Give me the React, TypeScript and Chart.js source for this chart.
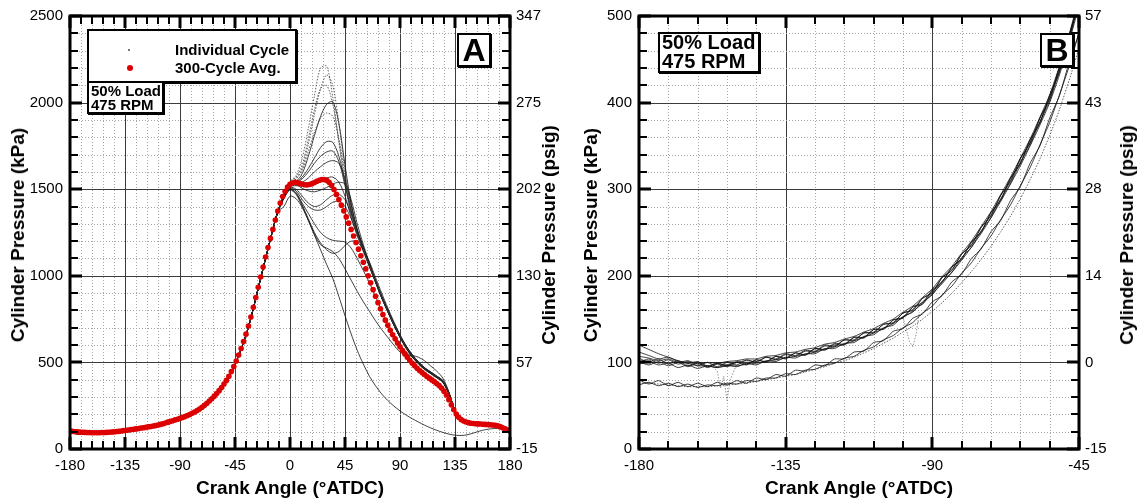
import React, { useEffect, useRef } from 'react';
import { Chart, registerables } from 'chart.js';

Chart.register(...registerables);

const FONT = '"Liberation Sans", Arial, Helvetica, sans-serif';

// ---------------- Panel A : full cycle ----------------
// 300-cycle average, every 2 deg from -180 to 180 (kPa)
const avgKpa = [
  104, 102, 100, 99, 98, 97, 96, 95, 95, 94,
  94, 94, 94, 95, 95, 96, 97, 98, 99, 101,
  102, 104, 106, 108, 110, 112, 114, 116, 118, 121,
  123, 125, 128, 130, 133, 135, 139, 142, 146, 150,
  155, 159, 163, 168, 172, 177, 182, 187, 193, 199,
  206, 214, 222, 231, 241, 252, 264, 277, 290, 305,
  320, 337, 355, 375, 396, 420, 447, 476, 508, 543,
  580, 620, 663, 710, 762, 818, 875, 934, 993, 1051,
  1108, 1163, 1216, 1268, 1322, 1374, 1420, 1458, 1488, 1512,
  1528, 1536, 1540, 1538, 1533, 1529, 1526, 1525, 1527, 1532,
  1539, 1546, 1552, 1556, 1556, 1551, 1540, 1522, 1498, 1470,
  1440, 1408, 1375, 1340, 1304, 1268, 1230, 1192, 1154, 1116,
  1078, 1040, 1000, 960, 920, 882, 845, 810, 776, 744,
  714, 686, 660, 636, 612, 590, 569, 549, 530, 512,
  495, 480, 466, 453, 441, 430, 419, 409, 399, 389,
  378, 366, 352, 334, 312, 285, 255, 227, 202, 183,
  170, 162, 156, 152, 149, 147, 146, 145, 144, 143,
  142, 141, 140, 139, 137, 134, 129, 123, 116, 110,
  104,
];
const avgAngles = avgKpa.map((_, i) => -180 + 2 * i);

// Compression stroke shared by the individual cycles
const compAngles = [-180, -175, -170, -165, -160, -155, -150, -145, -140, -135, -130, -125, -120, -115, -110, -105, -100, -95, -90, -85, -80, -75, -70, -65, -60, -55, -50, -45, -40, -35, -30, -25, -20, -15, -10];
const compKpa = [92, 89, 87, 86, 86, 87, 89, 92, 96, 101, 106, 112, 118, 125, 133, 142, 153, 164, 176, 190, 205, 225, 250, 281, 318, 362, 417, 488, 575, 680, 812, 957, 1100, 1240, 1370];

// Individual fired cycles, -5 .. 140 deg
const cycAngles = [-5, 0, 5, 10, 15, 20, 25, 30, 35, 40, 45, 50, 55, 60, 65, 70, 75, 80, 85, 90, 95, 100, 105, 110, 115, 120, 125, 130, 135, 140];
const cycle01 = [1480, 1545, 1580, 1680, 1850, 2040, 2200, 2210, 2030, 1770, 1530, 1350, 1235, 1150, 1055, 965, 875, 795, 720, 650, 590, 540, 500, 468, 445, 420, 395, 325, 220, 172];
const cycle02 = [1470, 1530, 1560, 1620, 1760, 1930, 2080, 2160, 2100, 1880, 1610, 1390, 1250, 1160, 1065, 970, 880, 800, 722, 652, 592, 540, 500, 466, 442, 418, 392, 322, 218, 170];
const cycle03 = [1475, 1540, 1570, 1640, 1790, 1960, 2080, 2100, 1990, 1780, 1560, 1370, 1245, 1155, 1060, 968, 878, 798, 720, 650, 588, 538, 498, 465, 440, 416, 390, 320, 215, 170];
const cycle04 = [1465, 1525, 1545, 1590, 1690, 1810, 1920, 1990, 2005, 1880, 1640, 1420, 1265, 1165, 1068, 972, 882, 802, 724, 654, 592, 542, 502, 468, 444, 420, 395, 325, 220, 172];
const cycle05 = [1470, 1535, 1560, 1610, 1720, 1830, 1910, 1940, 1920, 1790, 1590, 1400, 1260, 1160, 1062, 970, 880, 800, 722, 652, 590, 540, 500, 466, 442, 418, 392, 322, 218, 170];
const cycle06 = [1465, 1525, 1540, 1570, 1620, 1680, 1740, 1775, 1770, 1690, 1540, 1380, 1255, 1158, 1060, 966, 876, 796, 718, 648, 586, 536, 496, 464, 440, 416, 390, 320, 215, 170];
const cycle07 = [1460, 1520, 1535, 1560, 1600, 1650, 1690, 1715, 1720, 1660, 1520, 1370, 1250, 1155, 1058, 964, 874, 794, 716, 646, 584, 534, 494, 462, 438, 414, 388, 318, 214, 169];
const cycle08 = [1460, 1520, 1530, 1540, 1565, 1600, 1630, 1655, 1665, 1650, 1560, 1410, 1270, 1165, 1065, 970, 880, 800, 722, 652, 590, 540, 500, 466, 442, 418, 392, 322, 218, 170];
const cycle09 = [1455, 1515, 1520, 1520, 1525, 1540, 1555, 1565, 1570, 1540, 1460, 1340, 1230, 1140, 1050, 962, 872, 792, 714, 644, 582, 532, 492, 460, 436, 412, 386, 316, 212, 168];
const cycle10 = [1460, 1520, 1525, 1505, 1490, 1485, 1495, 1510, 1530, 1540, 1530, 1440, 1300, 1180, 1075, 975, 885, 805, 727, 657, 595, 545, 505, 470, 446, 422, 396, 326, 222, 174];
const cycle11 = [1455, 1510, 1500, 1460, 1420, 1400, 1410, 1440, 1465, 1470, 1440, 1360, 1260, 1160, 1062, 968, 878, 798, 720, 650, 588, 538, 498, 465, 440, 416, 390, 320, 215, 170];
const cycle12 = [1450, 1505, 1490, 1440, 1400, 1380, 1380, 1400, 1425, 1430, 1400, 1330, 1240, 1150, 1055, 962, 872, 792, 714, 644, 582, 532, 492, 460, 436, 412, 386, 316, 212, 168];
const cycle13 = [1450, 1500, 1480, 1410, 1330, 1250, 1190, 1150, 1130, 1140, 1175, 1200, 1195, 1150, 1080, 990, 900, 815, 735, 660, 596, 545, 502, 468, 442, 418, 392, 322, 218, 170];
const cycle14 = [1445, 1495, 1470, 1400, 1320, 1240, 1180, 1160, 1140, 1100, 1040, 975, 910, 850, 795, 740, 690, 645, 600, 560, 545, 540, 530, 510, 480, 450, 410, 330, 222, 172];
const cycle15 = [1450, 1500, 1475, 1420, 1360, 1300, 1250, 1220, 1205, 1200, 1195, 1160, 1100, 1030, 960, 880, 800, 725, 660, 605, 560, 530, 500, 470, 445, 420, 394, 324, 220, 172];
const firedTailAngles = [145, 150, 155, 160, 165, 170, 175, 180];
const firedTailKpa = [160, 150, 146, 143, 141, 136, 122, 105];

// Misfire cycle, -5 .. 180 deg
const misfireAngles = [-5, 0, 5, 10, 15, 20, 25, 30, 35, 40, 45, 50, 55, 60, 65, 70, 75, 80, 85, 90, 95, 100, 105, 110, 115, 120, 125, 130, 135, 140, 145, 150, 155, 160, 165, 170, 175, 180];
const misfireKpa = [1400, 1460, 1445, 1395, 1320, 1235, 1150, 1065, 985, 880, 770, 665, 570, 490, 420, 365, 318, 280, 248, 220, 196, 175, 156, 138, 122, 108, 96, 86, 80, 78, 82, 92, 103, 112, 117, 118, 112, 104];

const psigLabelsA = ['-15', '57', '130', '202', '275', '347'];

// ---------------- Panel B : compression detail ----------------
const bAngles = [
  -180, -177, -174, -171, -168, -165, -162, -159, -156, -153,
  -150, -147, -144, -141, -138, -135, -132, -129, -126, -123,
  -120, -117, -114, -111, -108, -105, -102, -99, -96, -93,
  -90, -87, -84, -81, -78, -75, -72, -69, -66, -63,
  -60, -57, -54, -51, -48, -45,
];
const upper1 = [105, 100, 104, 98, 102, 96, 100, 95, 99, 96, 101, 98, 103, 101, 107, 105, 111, 109, 116, 115, 122, 121, 129, 129, 138, 139, 149, 152, 164, 169, 184, 193, 210, 220, 239, 251, 273, 288, 313, 330, 357, 377, 408, 436, 478, 516];
const upper2 = [112, 108, 104, 106, 101, 99, 101, 96, 99, 97, 100, 102, 101, 106, 104, 110, 108, 114, 113, 120, 119, 126, 126, 134, 135, 144, 146, 157, 161, 174, 181, 198, 207, 225, 236, 256, 270, 293, 310, 335, 354, 382, 405, 441, 475, 521];
const upper3 = [98, 101, 97, 99, 94, 97, 93, 96, 94, 97, 95, 99, 97, 102, 101, 106, 105, 110, 110, 116, 116, 122, 123, 130, 132, 140, 143, 153, 158, 170, 178, 194, 204, 221, 233, 252, 267, 289, 307, 331, 351, 378, 402, 437, 472, 517];
const upper4 = [107, 105, 102, 104, 100, 102, 98, 100, 99, 101, 102, 104, 104, 107, 108, 111, 112, 115, 117, 121, 123, 127, 130, 135, 139, 145, 150, 158, 165, 175, 185, 199, 211, 226, 240, 257, 274, 294, 314, 336, 358, 383, 409, 442, 479, 522];
const upper5 = [120, 115, 110, 106, 102, 99, 96, 96, 94, 96, 96, 98, 99, 101, 103, 105, 107, 109, 112, 115, 118, 121, 125, 129, 134, 139, 145, 152, 159, 168, 179, 191, 204, 218, 233, 249, 267, 286, 306, 327, 350, 374, 400, 432, 470, 512];
const upper6 = [101, 97, 101, 96, 100, 95, 99, 94, 98, 95, 100, 97, 103, 100, 107, 104, 111, 108, 116, 114, 121, 120, 129, 128, 138, 138, 149, 151, 164, 167, 183, 192, 210, 219, 239, 250, 273, 287, 313, 329, 357, 376, 408, 435, 478, 515];
const upper7 = [100, 104, 99, 103, 98, 101, 96, 100, 95, 100, 97, 103, 100, 106, 103, 109, 107, 113, 112, 119, 118, 126, 125, 134, 134, 144, 145, 157, 160, 174, 180, 198, 206, 225, 235, 256, 269, 293, 309, 335, 353, 382, 404, 441, 474, 521];
const lower1 = [80, 75, 79, 73, 77, 72, 76, 72, 77, 74, 79, 76, 82, 80, 86, 84, 91, 90, 97, 96, 104, 104, 112, 113, 123, 125, 136, 139, 151, 156, 170, 177, 193, 202, 220, 231, 251, 264, 287, 303, 330, 350, 382, 408, 447, 480];
const lower2 = [74, 77, 73, 76, 72, 75, 71, 74, 73, 76, 75, 79, 78, 82, 82, 87, 86, 91, 92, 97, 99, 105, 107, 114, 118, 126, 131, 140, 146, 157, 165, 178, 188, 203, 215, 232, 246, 265, 282, 304, 325, 351, 377, 409, 442, 481];
const lower3 = [76, 76, 75, 74, 73, 72, 72, 72, 73, 74, 75, 76, 78, 80, 82, 84, 86, 89, 92, 95, 99, 102, 106, 111, 116, 122, 128, 135, 142, 150, 159, 169, 180, 192, 205, 219, 234, 251, 269, 289, 311, 335, 362, 392, 426, 463];
const spikeAAngles = [-158, -156, -155, -154, -153, -152, -150];
const spikeAKpa = [97, 90, 70, 84, 56, 80, 98];
const spikeBAngles = [-99, -98, -97, -96, -95, -94];
const spikeBKpa = [152, 138, 124, 118, 132, 158];

const psigLabelsB = ['-15', '0', '14', '28', '43', '57'];

// ---------------- helpers ----------------
const pts = (xs: number[], ys: number[]) => xs.map((x, i) => ({ x, y: ys[i] }));
const isMult = (v: number, m: number) => Math.abs(v / m - Math.round(v / m)) < 1e-6;
const gridValues = (min: number, max: number, step: number) => {
  const n = Math.round((max - min) / step);
  const out: number[] = [];
  for (let i = 0; i <= n; i++) out.push(min + i * step);
  return out;
};

const frameGrid = {
  id: 'frameGrid',
  beforeDatasetsDraw(chart: any, _a: any, o: any) {
    const { ctx, chartArea: a } = chart;
    const xs = chart.scales.x;
    const ys = chart.scales.y;
    ctx.save();
    ctx.lineWidth = 1;
    for (const v of gridValues(xs.min, xs.max, o.xMinor)) {
      const p = Math.round(xs.getPixelForValue(v)) + 0.5;
      if (p < a.left + 2 || p > a.right - 2) continue;
      const major = isMult(v, o.xMajor);
      ctx.setLineDash(major ? [] : [1, 2]);
      ctx.strokeStyle = major ? '#3c3c3c' : '#a6a6a6';
      ctx.beginPath();
      ctx.moveTo(p, a.top);
      ctx.lineTo(p, a.bottom);
      ctx.stroke();
    }
    for (const v of gridValues(ys.min, ys.max, o.yMinor)) {
      const p = Math.round(ys.getPixelForValue(v)) + 0.5;
      if (p < a.top + 2 || p > a.bottom - 2) continue;
      const major = isMult(v, o.yMajor);
      ctx.setLineDash(major ? [] : [1, 2]);
      ctx.strokeStyle = major ? '#3c3c3c' : '#a6a6a6';
      ctx.beginPath();
      ctx.moveTo(a.left, p);
      ctx.lineTo(a.right, p);
      ctx.stroke();
    }
    ctx.restore();
  },
  afterDatasetsDraw(chart: any, _a: any, o: any) {
    const { ctx, chartArea: a } = chart;
    const xs = chart.scales.x;
    const ys = chart.scales.y;
    ctx.save();
    ctx.setLineDash([]);
    ctx.strokeStyle = '#000';
    for (const v of gridValues(xs.min, xs.max, o.xMinor)) {
      const p = Math.round(xs.getPixelForValue(v));
      const major = isMult(v, o.xMajor);
      const len = major ? 12 : 8;
      ctx.lineWidth = major ? 3 : 2;
      ctx.beginPath();
      ctx.moveTo(p, a.bottom);
      ctx.lineTo(p, a.bottom - len);
      ctx.moveTo(p, a.top);
      ctx.lineTo(p, a.top + len);
      ctx.stroke();
    }
    for (const v of gridValues(ys.min, ys.max, o.yMinor)) {
      const p = Math.round(ys.getPixelForValue(v));
      const major = isMult(v, o.yMajor);
      const len = major ? 12 : 8;
      ctx.lineWidth = major ? 3 : 2;
      ctx.beginPath();
      ctx.moveTo(a.left, p);
      ctx.lineTo(a.left + len, p);
      ctx.moveTo(a.right, p);
      ctx.lineTo(a.right - len, p);
      ctx.stroke();
    }
    ctx.lineWidth = 3;
    ctx.strokeRect(a.left, a.top, a.right - a.left, a.bottom - a.top);
    ctx.restore();
  },
};

const tickFont = { family: FONT, size: 15 };

function axes(xMin: number, xMax: number, yMax: number, yStep: number, leftW: number, rightW: number, psig: string[]) {
  return {
    x: {
      type: 'linear', position: 'bottom', min: xMin, max: xMax,
      grid: { display: false, drawTicks: false }, border: { display: false },
      ticks: { stepSize: 45, padding: 8, font: tickFont, color: '#000', maxRotation: 0, autoSkip: false, callback: (v: any) => String(v) },
      afterFit: (s: any) => { s.height = 51; },
    },
    y: {
      type: 'linear', position: 'left', min: 0, max: yMax,
      grid: { display: false, drawTicks: false }, border: { display: false },
      ticks: { stepSize: yStep, padding: 7, font: tickFont, color: '#000', callback: (v: any) => String(v) },
      afterFit: (s: any) => { s.width = leftW; },
    },
    y2: {
      type: 'linear', position: 'right', min: 0, max: yMax,
      grid: { display: false, drawTicks: false }, border: { display: false },
      ticks: { stepSize: yStep, padding: 6, font: tickFont, color: '#000', callback: (_v: any, i: number) => psig[i] ?? '' },
      afterFit: (s: any) => { s.width = rightW; },
    },
  };
}

const baseLine = (data: any[], dashed: boolean, tension: number, color?: string) => ({
  data,
  borderColor: color ?? (dashed ? '#3a3a3a' : '#111'),
  borderWidth: 0.8,
  borderDash: dashed ? [1.5, 1.5] : [],
  pointRadius: 0,
  tension,
  fill: false,
});

export default function App() {
  const refA = useRef<HTMLCanvasElement>(null);
  const refB = useRef<HTMLCanvasElement>(null);

  useEffect(() => {
    const fired = [cycle01, cycle02, cycle03, cycle04, cycle05, cycle06, cycle07, cycle08, cycle09, cycle10, cycle11, cycle12, cycle13, cycle14, cycle15];
    const dashedIdx = [0, 1, 2, 4];
    const comp = pts(compAngles, compKpa);
    const tail = pts(firedTailAngles, firedTailKpa);
    const dsA: any[] = [
      {
        data: pts(avgAngles, avgKpa),
        showLine: false,
        pointRadius: 2.8,
        pointBackgroundColor: '#dd0000',
        pointBorderColor: '#dd0000',
        pointBorderWidth: 0,
      },
      ...fired.map((c, i) => baseLine([...comp, ...pts(cycAngles, c), ...tail], dashedIdx.includes(i), 0.3)),
      baseLine([...comp, ...pts(misfireAngles, misfireKpa)], false, 0.3),
    ];
    const chartA = new Chart(refA.current as HTMLCanvasElement, {
      type: 'line',
      data: { datasets: dsA },
      options: {
        responsive: false, animation: false, events: [],
        layout: { padding: { top: 15, left: 0, right: 0, bottom: 0 } },
        plugins: { legend: { display: false }, tooltip: { enabled: false }, frameGrid: { xMinor: 9, xMajor: 45, yMinor: 100, yMajor: 500 } } as any,
        scales: axes(-180, 180, 2500, 500, 70, 55, psigLabelsA) as any,
      },
      plugins: [frameGrid],
    });

    const uppers = [upper1, upper2, upper3, upper4, upper5, upper6, upper7];
    const dsB: any[] = [
      ...uppers.map((u) => baseLine(pts(bAngles, u), false, 0.2)),
      baseLine(pts(bAngles, lower1), false, 0.2),
      baseLine(pts(bAngles, lower2), false, 0.2),
      baseLine(pts(bAngles, lower3), true, 0.2),
      baseLine(pts(spikeAAngles, spikeAKpa), true, 0, '#777'),
      baseLine(pts(spikeBAngles, spikeBKpa), true, 0, '#777'),
    ];
    const chartB = new Chart(refB.current as HTMLCanvasElement, {
      type: 'line',
      data: { datasets: dsB },
      options: {
        responsive: false, animation: false, events: [],
        layout: { padding: { top: 15, left: 0, right: 0, bottom: 0 } },
        plugins: { legend: { display: false }, tooltip: { enabled: false }, frameGrid: { xMinor: 9, xMajor: 45, yMinor: 20, yMajor: 100 } } as any,
        scales: axes(-180, -45, 500, 100, 74, 60, psigLabelsB) as any,
      },
      plugins: [frameGrid],
    });
    return () => {
      chartA.destroy();
      chartB.destroy();
    };
  }, []);

  const abs = (s: any) => ({ position: 'absolute', ...s }) as React.CSSProperties;
  const vTitle = (cx: number, cy: number, text: string) => (
    <div style={abs({ left: cx, top: cy, transform: 'translate(-50%,-50%) rotate(-90deg)', whiteSpace: 'nowrap', font: `bold 19px ${FONT}`, lineHeight: '22px' })}>{text}</div>
  );
  const hTitle = (cx: number, cy: number, text: string) => (
    <div style={abs({ left: cx, top: cy, transform: 'translate(-50%,-50%)', whiteSpace: 'nowrap', font: `bold 19px ${FONT}`, lineHeight: '22px' })}>{text}</div>
  );
  const boxStyle = { boxSizing: 'border-box', border: '2px solid #000', background: '#fff' };

  return (
    <div style={{ position: 'fixed', left: 0, top: 0, width: 1139, height: 500, background: '#fff', fontFamily: FONT, color: '#000' }}>
      <canvas ref={refA} width={565} height={500} style={abs({ left: 0, top: 0 })} />
      <canvas ref={refB} width={574} height={500} style={abs({ left: 565, top: 0 })} />

      {vTitle(18, 235, 'Cylinder Pressure (kPa)')}
      {vTitle(549, 235, 'Cylinder Pressure (psig)')}
      {vTitle(591, 235, 'Cylinder Pressure (kPa)')}
      {vTitle(1127, 235, 'Cylinder Pressure (psig)')}
      {hTitle(290, 488, 'Crank Angle (°ATDC)')}
      {hTitle(859, 488, 'Crank Angle (°ATDC)')}

      {/* Panel A legend */}
      <div style={abs({ ...boxStyle, left: 87, top: 29, width: 210, height: 54, boxShadow: '1px 1px 0 #000' })} />
      <div style={abs({ left: 128, top: 49, width: 2, height: 2, background: '#777' })} />
      <div style={abs({ left: 127, top: 65, width: 6, height: 6, borderRadius: 3, background: '#dd0000' })} />
      <div style={abs({ left: 175, top: 41, font: `bold 15px ${FONT}`, lineHeight: '18px', whiteSpace: 'nowrap' })}>Individual Cycle</div>
      <div style={abs({ left: 175, top: 59, font: `bold 15px ${FONT}`, lineHeight: '18px', whiteSpace: 'nowrap' })}>300-Cycle Avg.</div>

      {/* Panel A condition box */}
      <div style={abs({ ...boxStyle, left: 87, top: 81, width: 77, height: 33, boxShadow: '1px 1px 0 #000' })} />
      <div style={abs({ left: 91, top: 82, font: `bold 15px ${FONT}`, lineHeight: '18px', whiteSpace: 'nowrap' })}>50% Load</div>
      <div style={abs({ left: 91, top: 96, font: `bold 15px ${FONT}`, lineHeight: '18px', whiteSpace: 'nowrap' })}>475 RPM</div>

      {/* Panel A tag */}
      <div style={abs({ ...boxStyle, left: 457, top: 33, width: 34, height: 34, boxShadow: '1px 1px 0 #000', font: `bold 32px ${FONT}`, lineHeight: '30px', textAlign: 'center' })}>A</div>

      {/* Panel B condition box */}
      <div style={abs({ ...boxStyle, left: 658, top: 32, width: 102, height: 41, boxShadow: '1px 1px 0 #000' })} />
      <div style={abs({ left: 662, top: 31, font: `bold 20px ${FONT}`, lineHeight: '22px', whiteSpace: 'nowrap' })}>50% Load</div>
      <div style={abs({ left: 662, top: 50, font: `bold 20px ${FONT}`, lineHeight: '22px', whiteSpace: 'nowrap' })}>475 RPM</div>

      {/* Panel B tag */}
      <div style={abs({ ...boxStyle, left: 1040, top: 33, width: 34, height: 34, boxShadow: '1px 1px 0 #000', font: `bold 32px ${FONT}`, lineHeight: '30px', textAlign: 'center' })}>B</div>
    </div>
  );
}
